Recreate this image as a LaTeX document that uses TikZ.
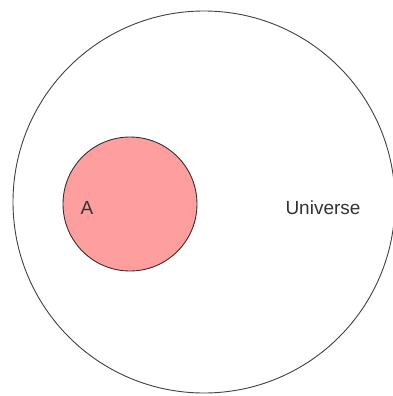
\documentclass[tikz,border=0pt]{standalone}
\usepackage{fontspec}
\setmainfont{Liberation Sans}
\usepackage{xcolor}
\usetikzlibrary{positioning}
\definecolor{SetPink}{HTML}{FF9E9E}
\definecolor{SetEdge}{HTML}{3A2E2E}
\definecolor{LabelGrey}{HTML}{333333}

\begin{document}
\begin{tikzpicture}[
  x=1pt, y=1pt,
  setcircle/.style={
    circle,
    draw=#1,
    line width=0.9pt,
    inner sep=0pt
  },
  setlabel/.style={
    font=\fontsize{19}{22}\selectfont,
    text=LabelGrey,
    inner sep=0pt
  }
]
  \useasboundingbox (0,0) rectangle (393,-396);
  \clip (0,0) rectangle (393,-396);

  \node[setcircle=black!75, minimum size=382pt] (universe) at (204,-202) {};
  \node[setcircle=SetEdge, fill=SetPink, minimum size=134pt] (setA) at (130,-204) {};

  \node[setlabel] (labelA) at (87,-208) {A};
  \node[setlabel] (labelU) at (323,-208) {Universe};
\end{tikzpicture}
\end{document}
